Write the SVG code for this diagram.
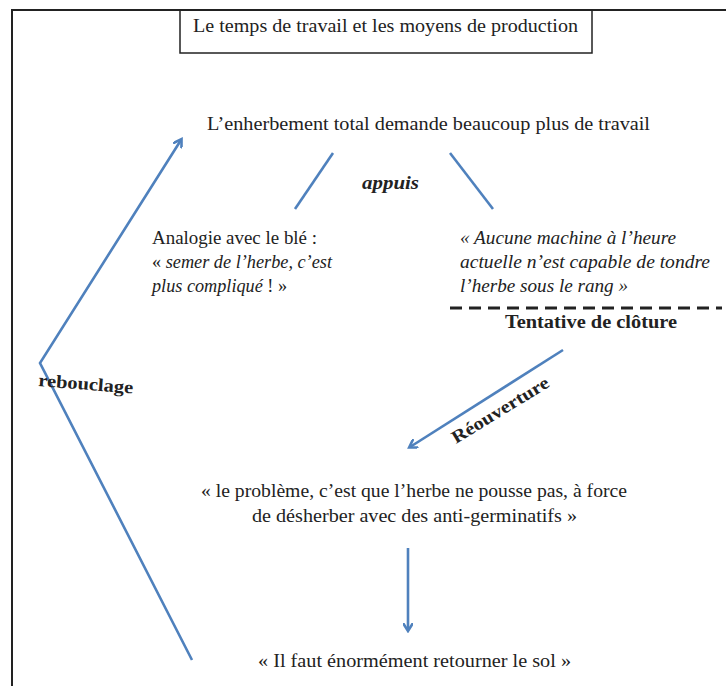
<svg xmlns="http://www.w3.org/2000/svg" width="726" height="686" viewBox="0 0 726 686">
<style>
.t{font-family:"Liberation Serif","DejaVu Serif",serif;fill:#222;font-size:18px;}
.i{font-style:italic;}
.b{font-weight:bold;}
.c{stroke:#4F81BD;stroke-width:2.6;fill:none;}
</style>
<defs>
<marker id="ah" markerWidth="10" markerHeight="10" refX="7" refY="5" orient="auto" markerUnits="userSpaceOnUse">
<path d="M0,0 L8,5 L0,10" fill="none" stroke="#4F81BD" stroke-width="2.6"/>
</marker>
</defs>
<rect width="726" height="686" fill="#fff"/>
<g id="frame" fill="none" stroke="#222" stroke-width="2">
<path d="M12,686 V10 H726"/>
</g>
<g id="title">
<rect x="180" y="10" width="412" height="43" fill="none" stroke="#222" stroke-width="1.5"/>
<text class="t" x="193" y="32" textLength="385" lengthAdjust="spacingAndGlyphs">Le temps de travail et les moyens de production</text>
</g>
<g id="n-enherbement">
<text class="t" x="207" y="130" font-size="19" textLength="443" lengthAdjust="spacingAndGlyphs">L’enherbement total demande beaucoup plus de travail</text>
</g>
<g id="n-analogie">
<text class="t" x="152" y="244" textLength="165" lengthAdjust="spacingAndGlyphs">Analogie avec le blé :</text>
<text class="t" x="152" y="268" textLength="180" lengthAdjust="spacingAndGlyphs">« <tspan font-style="italic">semer de l’herbe, c’est</tspan></text>
<text class="t" x="152" y="292" textLength="135" lengthAdjust="spacingAndGlyphs"><tspan font-style="italic">plus compliqué</tspan> ! »</text>
</g>
<g id="n-machine">
<text class="t i" x="460" y="244" textLength="216" lengthAdjust="spacingAndGlyphs">« Aucune machine à l’heure</text>
<text class="t i" x="460" y="268" textLength="250" lengthAdjust="spacingAndGlyphs">actuelle n’est capable de tondre</text>
<text class="t i" x="460" y="292" textLength="168" lengthAdjust="spacingAndGlyphs">l’herbe sous le rang »</text>
</g>
<g id="n-cloture">
<line x1="450" y1="308" x2="722" y2="308" stroke="#222" stroke-width="3" stroke-dasharray="12 7"/>
<text class="t b" x="505" y="328" textLength="172" lengthAdjust="spacingAndGlyphs">Tentative de clôture</text>
</g>
<g id="n-probleme">
<text class="t" x="201" y="497" textLength="426" lengthAdjust="spacingAndGlyphs">« le problème, c’est que l’herbe ne pousse pas, à force</text>
<text class="t" x="252" y="522" textLength="325" lengthAdjust="spacingAndGlyphs">de désherber avec des anti-germinatifs »</text>
</g>
<g id="n-sol">
<text class="t" x="258" y="667" textLength="313" lengthAdjust="spacingAndGlyphs">« Il faut énormément retourner le sol »</text>
</g>
<g id="connectors">
<line class="c" x1="333" y1="153" x2="295" y2="209"/>
<line class="c" x1="450" y1="153" x2="493" y2="209"/>
<line class="c" x1="563" y1="350" x2="410" y2="447" marker-end="url(#ah)"/>
<line class="c" x1="408" y1="548" x2="408" y2="630" marker-end="url(#ah)"/>
<polyline class="c" points="192,660 40,363 181,140" marker-end="url(#ah)"/>
</g>
<g id="labels">
<text class="t b i" x="362" y="189" textLength="57" lengthAdjust="spacingAndGlyphs">appuis</text>
<text class="t b" x="456" y="444" transform="rotate(-31.5 456 444)" textLength="111" lengthAdjust="spacingAndGlyphs">Réouverture</text>
<text class="t b" x="38" y="386" transform="rotate(4.5 38 386)" textLength="95" lengthAdjust="spacingAndGlyphs">rebouclage</text>
</g>
</svg>
